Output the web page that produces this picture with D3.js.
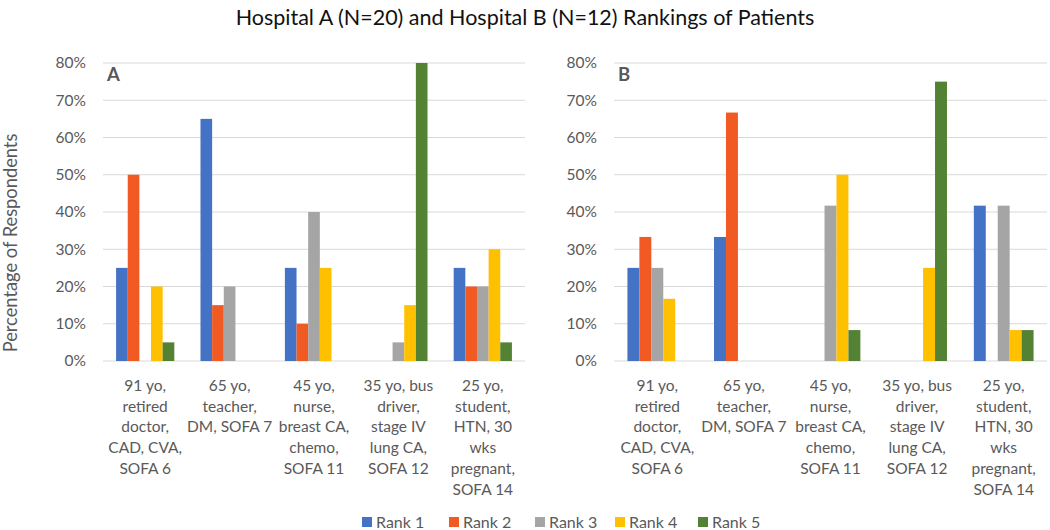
<!DOCTYPE html>
<html>
<head>
<meta charset="utf-8">
<script src="https://cdn.jsdelivr.net/npm/d3@7"></script>
<style>
  html, body { margin: 0; padding: 0; background: #fff; }
  svg { display: block; font-family: Lato, "Open Sans", sans-serif; }
</style>
</head>
<body>
<svg id="chart" width="1050" height="530"></svg>
<script>
// ---- Data ----
const categories = [
  "91 yo, retired doctor, CAD, CVA, SOFA 6",
  "65 yo, teacher, DM, SOFA 7",
  "45 yo, nurse, breast CA, chemo, SOFA 11",
  "35 yo, bus driver, stage IV lung CA, SOFA 12",
  "25 yo, student, HTN, 30 wks pregnant, SOFA 14"
];
const categoryLines = [
  ["91 yo,", "retired", "doctor,", "CAD, CVA,", "SOFA 6"],
  ["65 yo,", "teacher,", "DM, SOFA 7"],
  ["45 yo,", "nurse,", "breast CA,", "chemo,", "SOFA 11"],
  ["35 yo, bus", "driver,", "stage IV", "lung CA,", "SOFA 12"],
  ["25 yo,", "student,", "HTN, 30", "wks", "pregnant,", "SOFA 14"]
];
const seriesNames = ["Rank 1", "Rank 2", "Rank 3", "Rank 4", "Rank 5"];
const seriesColors = ["#4472C4", "#F15A22", "#A5A5A5", "#FFC000", "#548235"];

// Hospital A (N=20): percentage per rank, one value per category
const hospitalA_rank1 = [25, 65, 25, 0, 25];
const hospitalA_rank2 = [50, 15, 10, 0, 20];
const hospitalA_rank3 = [0, 20, 40, 5, 20];
const hospitalA_rank4 = [20, 0, 25, 15, 30];
const hospitalA_rank5 = [5, 0, 0, 80, 5];

// Hospital B (N=12)
const hospitalB_rank1 = [25, 33.3, 0, 0, 41.7];
const hospitalB_rank2 = [33.3, 66.7, 0, 0, 0];
const hospitalB_rank3 = [25, 0, 41.7, 0, 41.7];
const hospitalB_rank4 = [16.7, 0, 50, 25, 8.3];
const hospitalB_rank5 = [0, 0, 8.3, 75, 8.3];

const yTicks = [0, 10, 20, 30, 40, 50, 60, 70, 80];

const titleText = "Hospital A (N=20) and Hospital B (N=12) Rankings of Patients";
const yAxisTitle = "Percentage of Respondents";

// ---- Drawing ----
const svg = d3.select("#chart");
const textColor = "#595959";

svg.append("text")
  .attr("x", 525).attr("y", 25)
  .attr("text-anchor", "middle")
  .attr("font-size", 21.5)
  .attr("fill", "#111")
  .text(titleText);

svg.append("text")
  .attr("transform", "translate(17,243) rotate(-90)")
  .attr("text-anchor", "middle")
  .attr("font-size", 18.3)
  .attr("fill", textColor)
  .text(yAxisTitle);

function drawPanel(opts) {
  const { left, right, top, bottom, label, series, labelX } = opts;
  const g = svg.append("g");

  const y = d3.scaleLinear().domain([0, 80]).range([bottom, top]);
  const x0 = d3.scaleBand().domain(d3.range(categories.length))
    .range([left, right]).paddingInner(0.31).paddingOuter(0.155);
  const x1 = d3.scaleBand().domain(d3.range(seriesNames.length))
    .range([0, x0.bandwidth()]);

  // gridlines
  g.append("g").selectAll("line").data(yTicks).join("line")
    .attr("x1", left).attr("x2", right)
    .attr("y1", d => y(d)).attr("y2", d => y(d))
    .attr("stroke", "#D9D9D9").attr("stroke-width", 1.2);

  // y tick labels
  g.append("g").selectAll("text").data(yTicks).join("text")
    .attr("x", labelX).attr("y", d => y(d))
    .attr("dy", "0.35em")
    .attr("text-anchor", "end")
    .attr("font-size", 15.5)
    .attr("fill", textColor)
    .text(d => d + "%");

  // bars
  const groups = g.append("g").selectAll("g").data(categories.map((c, i) => i)).join("g")
    .attr("transform", i => `translate(${x0(i)},0)`);
  groups.selectAll("rect")
    .data(i => series.map((s, k) => ({ k, v: s[i] })))
    .join("rect")
    .filter(d => d.v > 0)
    .attr("x", d => x1(d.k))
    .attr("width", x1.bandwidth())
    .attr("y", d => y(d.v))
    .attr("height", d => y(0) - y(d.v))
    .attr("fill", d => seriesColors[d.k]);

  // category labels
  const lab = g.append("g").selectAll("text").data(categoryLines).join("text")
    .attr("text-anchor", "middle")
    .attr("font-size", 15.5)
    .attr("fill", textColor)
    .attr("transform", (d, i) => `translate(${x0(i) + x0.bandwidth() / 2},391)`);
  lab.selectAll("tspan").data(d => d).join("tspan")
    .attr("x", 0)
    .attr("y", (d, j) => j * 20.7)
    .text(d => d);

  // panel letter
  g.append("text")
    .attr("x", left + 4).attr("y", 81)
    .attr("font-size", 18.5)
    .attr("font-weight", "bold")
    .attr("fill", textColor)
    .text(label);
}

drawPanel({
  left: 103, right: 525, top: 63, bottom: 361, labelX: 86, label: "A",
  series: [hospitalA_rank1, hospitalA_rank2, hospitalA_rank3, hospitalA_rank4, hospitalA_rank5]
});
drawPanel({
  left: 614, right: 1047, top: 63, bottom: 361, labelX: 597, label: "B",
  series: [hospitalB_rank1, hospitalB_rank2, hospitalB_rank3, hospitalB_rank4, hospitalB_rank5]
});

// legend
const legendX = [362, 449, 535, 615, 698];
const legend = svg.append("g").selectAll("g").data(seriesNames).join("g")
  .attr("transform", (d, i) => `translate(${legendX[i]},517)`);
legend.append("rect")
  .attr("width", 10).attr("height", 10)
  .attr("fill", (d, i) => seriesColors[i]);
legend.append("text")
  .attr("x", 14).attr("y", 10.5)
  .attr("font-size", 16)
  .attr("fill", textColor)
  .text(d => d);
</script>
</body>
</html>
